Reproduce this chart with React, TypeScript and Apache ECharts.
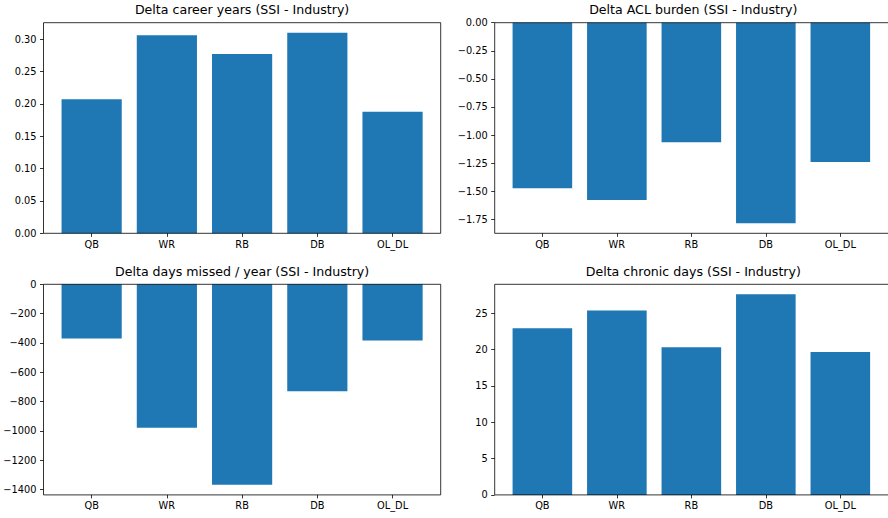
import React, { useEffect, useRef } from 'react';
import * as echarts from 'echarts';

const categories = ['QB', 'WR', 'RB', 'DB', 'OL_DL'];

const careerYears = [0.207, 0.306, 0.277, 0.31, 0.188];
const aclBurden = [-1.474, -1.578, -1.065, -1.785, -1.24];
const daysMissed = [-369, -979, -1368, -729, -383];
const chronicDays = [22.94, 25.36, 20.33, 27.6, 19.68];

const careerTicks = [0, 0.05, 0.1, 0.15, 0.2, 0.25, 0.3];
const aclTicks = [-1.75, -1.5, -1.25, -1.0, -0.75, -0.5, -0.25, 0];
const missedTicks = [-1400, -1200, -1000, -800, -600, -400, -200, 0];
const chronicTicks = [0, 5, 10, 15, 20, 25];

const titles = [
  'Delta career years (SSI - Industry)',
  'Delta ACL burden (SSI - Industry)',
  'Delta days missed / year (SSI - Industry)',
  'Delta chronic days (SSI - Industry)',
];

const FONT = 'DejaVu Sans';
const BAR_COLOR = '#1f77b4';

function limits(vals: number[]): [number, number] {
  const lo = Math.min(0, ...vals);
  const hi = Math.max(0, ...vals);
  const span = hi - lo;
  return [lo < 0 ? lo - 0.05 * span : 0, hi > 0 ? hi + 0.05 * span : 0];
}

function fmt(decimals: number) {
  return (v: number) => (v < 0 ? '\u2212' : '') + Math.abs(v).toFixed(decimals);
}

export default function App() {
  const ref = useRef<HTMLDivElement>(null);
  useEffect(() => {
    document.body.style.margin = '0';
    const chart = echarts.init(ref.current!, null, { renderer: 'svg' });

    const W = 397.2;
    const H = 210.6;
    const lefts = [43.5, 494.7, 43.5, 494.7];
    const tops = [22.7, 22.7, 284.3, 284.3];
    const series = [careerYears, aclBurden, daysMissed, chronicDays];
    const ticks = [careerTicks, aclTicks, missedTicks, chronicTicks];
    const decs = [2, 2, 0, 0];
    const xMin = -0.4 - 0.05 * (categories.length - 1 + 0.8);
    const xMax = categories.length - 1 + 0.4 + 0.05 * (categories.length - 1 + 0.8);
    const catTicks = categories.map((_, i) => i);

    const option: any = {
      animation: false,
      backgroundColor: '#fff',
      textStyle: { fontFamily: FONT },
      title: titles.map((t, i) => ({
        text: t,
        left: lefts[i] + W / 2,
        top: tops[i] - 19.5,
        textAlign: 'center',
        padding: 0,
        textStyle: { fontFamily: FONT, fontSize: 12.6, fontWeight: 'normal', color: '#000' },
      })),
      grid: lefts.map((l, i) => ({ left: l, top: tops[i], width: W, height: H, containLabel: false })),
      xAxis: series.map((_, i) => ({
        type: 'value',
        gridIndex: i,
        min: xMin,
        max: xMax,
        splitLine: { show: false },
        axisLine: { show: false, onZero: false },
        axisTick: { show: true, customValues: catTicks, length: 3.5, lineStyle: { color: '#000', width: 0.8 } },
        axisLabel: {
          show: true,
          customValues: catTicks,
          formatter: (v: number) => categories[Math.round(v)] ?? '',
          margin: 6,
          fontFamily: FONT,
          fontSize: 9.8,
          color: '#000',
        },
      })),
      yAxis: series.map((vals, i) => {
        const [lo, hi] = limits(vals);
        return {
          type: 'value',
          gridIndex: i,
          min: lo,
          max: hi,
          splitLine: { show: false },
          axisLine: { show: false, onZero: false },
          axisTick: { show: true, customValues: ticks[i], length: 3.5, lineStyle: { color: '#000', width: 0.8 } },
          axisLabel: {
            show: true,
            customValues: ticks[i],
            formatter: fmt(decs[i]),
            margin: 7,
            fontFamily: FONT,
            fontSize: 9.8,
            color: '#000',
          },
        };
      }),
      series: series.map((vals, i) => ({
        type: 'bar',
        xAxisIndex: i,
        yAxisIndex: i,
        barWidth: '80%',
        data: vals.map((v, j) => [j, v]),
        itemStyle: { color: BAR_COLOR },
      })),
      graphic: lefts.map((l, i) => ({
        type: 'rect',
        z: 100,
        silent: true,
        shape: { x: l, y: tops[i], width: W, height: H },
        style: { fill: 'none', stroke: '#000', lineWidth: 0.8 },
      })),
    };

    chart.setOption(option);
    return () => chart.dispose();
  }, []);
  return <div ref={ref} style={{ width: 888, height: 518 }} />;
}
